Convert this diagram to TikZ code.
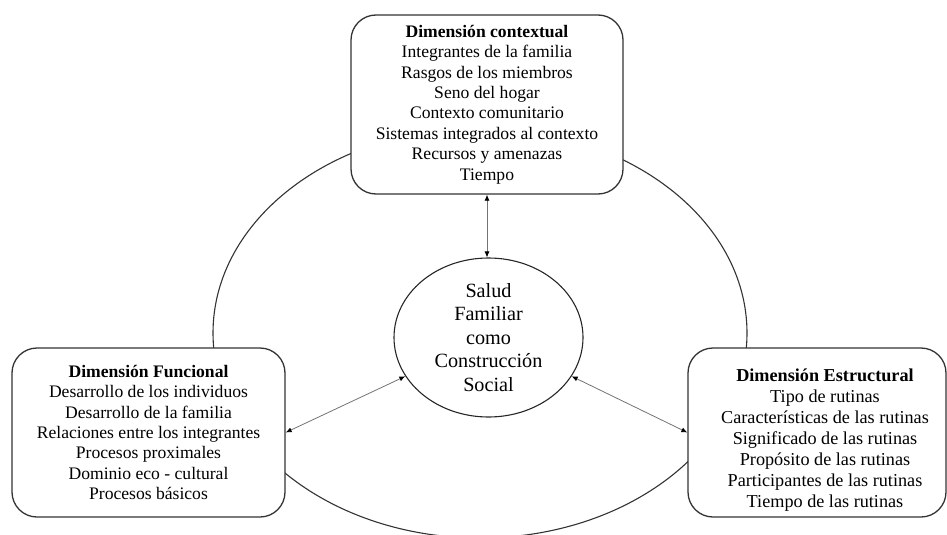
\documentclass[tikz,border=0pt]{standalone}
\usepackage{fontspec}
\setmainfont{Liberation Serif}
\usetikzlibrary{shapes.geometric,arrows.meta}
\begin{document}
\begin{tikzpicture}[x=1pt,y=-1pt,
  dimbox/.style={draw=black!80, line width=1.3pt, rounded corners=25pt, fill=white, align=center, inner sep=0pt},
  dimtext/.style={align=center, inner sep=0pt, font=\fontsize{17.6}{20.4}\selectfont},
  link/.style={draw=black!55, line width=0.8pt, {Latex[length=6pt,width=5pt,color=black]}-{Latex[length=6pt,width=5pt,color=black]}}
  ]
\useasboundingbox (0,0) rectangle (947,535);
% outer ellipse
\node[draw=black!80, line width=1.1pt, ellipse, minimum width=534pt, minimum height=410pt, inner sep=0pt] (outer) at (480,333) {};
% top box
\node[dimbox, dimtext, minimum width=272pt, minimum height=179pt] (contx) at (487,104.5)
  {\textbf{Dimensión contextual}\\Integrantes de la familia\\Rasgos de los miembros\\Seno del hogar\\Contexto comunitario\\Sistemas integrados al contexto\\Recursos y amenazas\\Tiempo};
% left box
\node[dimbox, dimtext, minimum width=273pt, minimum height=169pt] (func) at (148.5,432.5)
  {\textbf{Dimensión Funcional}\\Desarrollo de los individuos\\Desarrollo de la familia\\Relaciones entre los integrantes\\Procesos proximales\\Dominio eco - cultural\\Procesos básicos};
% right box
\node[dimbox, minimum width=258pt, minimum height=169pt] (estr) at (817,432.5) {};
\node[dimtext, font=\fontsize{18.2}{21.1}\selectfont] (estrtxt) at (825,440)
  {\textbf{Dimensión Estructural}\\Tipo de rutinas\\Características de las rutinas\\Significado de las rutinas\\Propósito de las rutinas\\Participantes de las rutinas\\Tiempo de las rutinas};
% centre ellipse
\node[draw=black!85, line width=1.1pt, ellipse, minimum width=189pt, minimum height=159pt, inner sep=0pt, align=center, font=\fontsize{20.2}{23.5}\selectfont] (salud) at (488.5,337.5)
  {Salud\\Familiar\\como\\Construcción\\Social};
% connectors
\draw[link] (contx.south) -- (contx.south |- salud.north);
\draw[link] (func.east) -- (salud.205);
\draw[link] (estr.west) -- (salud.-25);
\end{tikzpicture}
\end{document}
